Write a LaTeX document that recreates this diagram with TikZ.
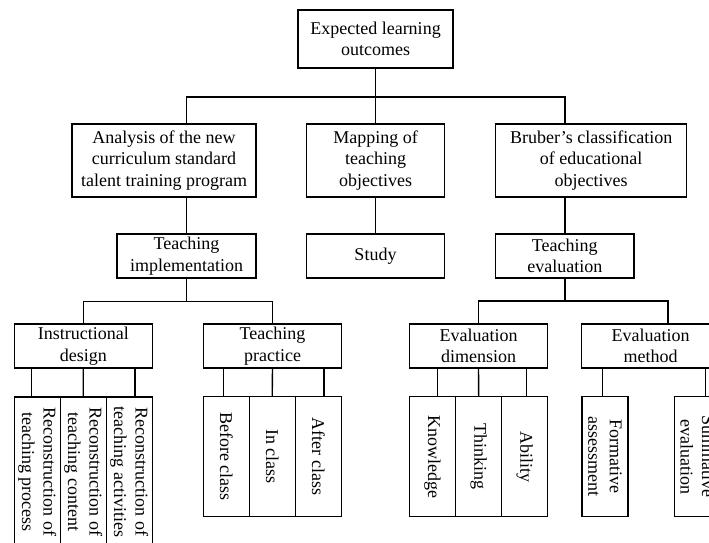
\documentclass[tikz,border=0pt]{standalone}
\usepackage{fontspec}
\setmainfont{Liberation Serif}
\begin{document}
\begin{tikzpicture}[x=1pt,y=-1pt,line width=1.4pt,
  txt/.style={font=\fontsize{18}{21.5}\selectfont},
  box/.style={draw,txt,line width=1.4pt,inner sep=0pt,align=center},
  leaf/.style={draw,line width=1.4pt,inner sep=0pt,minimum width=46pt},
  vtext/.style={txt,rotate=-90,align=center,inner sep=0pt}]
\useasboundingbox (0,0) rectangle (709,542);
\clip (0,0) rectangle (709,542);
\coordinate (busA) at (0,97);
\coordinate (busB) at (0,301.5);

% level 1
\node[box,minimum width=155pt,minimum height=58pt] (top) at (375.5,39) {Expected learning\\outcomes};
% level 2
\node[box,minimum width=184pt,minimum height=73pt] (ana) at (164,160.5) {Analysis of the new\\curriculum standard\\talent training program};
\node[box,minimum width=137.6pt,minimum height=73pt] (map) at (375.5,160.5) {Mapping of\\teaching\\objectives};
\node[box,minimum width=191pt,minimum height=73pt] (bru) at (591.2,160.5) {Bruber's classification\\of educational\\objectives};
% level 3
\node[box,minimum width=139pt,minimum height=44pt] (impl) at (186.5,256) {Teaching\\implementation};
\node[box,minimum width=137.6pt,minimum height=44pt] (study) at (375.5,256) {Study};
\node[box,minimum width=138.3pt,minimum height=44pt] (evalT) at (564.8,256) {Teaching\\evaluation};
% level 4
\node[box,minimum width=138pt,minimum height=44pt] (id) at (83.3,346) {Instructional\\design};
\node[box,minimum width=138.4pt,minimum height=44pt] (tp) at (272.5,346) {Teaching\\practice};
\node[box,minimum width=138.4pt,minimum height=44pt] (ed) at (478.5,346) {Evaluation\\dimension};
\node[box,minimum width=138pt,minimum height=44pt] (em) at (650.7,346) {Evaluation\\method};

% level 5: instructional design
\node[leaf,minimum height=150pt] (r1) at (37.2,472) {};
\node[leaf,minimum height=150pt] (r2) at (83.2,472) {};
\node[leaf,minimum height=150pt] (r3) at (129.2,472) {};
\node[vtext] (r1t) at (r1) {Reconstruction of\\teaching process};
\node[vtext] (r2t) at (r2) {Reconstruction of\\teaching content};
\node[vtext] (r3t) at (r3) {Reconstruction of\\teaching activities};
% level 5: teaching practice
\node[leaf,minimum height=120pt] (p1) at (226.3,456.7) {};
\node[leaf,minimum height=120pt] (p2) at (272.2,456.7) {};
\node[leaf,minimum height=120pt] (p3) at (318.3,456.7) {};
\node[vtext] (p1t) at (p1) {Before class};
\node[vtext] (p2t) at (p2) {In class};
\node[vtext] (p3t) at (p3) {After class};
% level 5: evaluation dimension
\node[leaf,minimum height=120pt] (d1) at (432.5,456.7) {};
\node[leaf,minimum height=120pt] (d2) at (478.7,456.7) {};
\node[leaf,minimum height=120pt] (d3) at (524.7,456.7) {};
\node[vtext] (d1t) at (d1) {Knowledge};
\node[vtext] (d2t) at (d2) {Thinking};
\node[vtext] (d3t) at (d3) {Ability};
% level 5: evaluation method
\node[leaf,minimum height=120pt] (m1) at (605,456.7) {};
\node[leaf,minimum height=120pt] (m2) at (697.2,456.7) {};
\node[vtext] (m1t) at (m1) {Formative\\assessment};
\node[vtext] (m2t) at (m2) {Summative\\evaluation};

% connectors: levels 1-3
\draw (top.south) -- (top.south |- busA);
\draw (impl.north |- ana.north) |- (evalT.north |- busA) -- (evalT.north |- bru.north);
\draw (map.north) -- (map.north |- busA);
\draw (ana.south -| impl.north) -- (impl.north);
\draw (map.south) -- (study.north);
\draw (bru.south -| evalT.north) -- (evalT.north);
% connectors: levels 3-4
\draw (impl.south) -- (impl.south |- busB);
\draw (id.north) |- (tp.north |- busB) -- (tp.north);
\draw (evalT.south) -- (evalT.south |- busB);
\draw ([xshift=17.3pt]em.north) -- ++(0,-22.5) -| (ed.north);
% connectors: levels 4-5
\draw ([xshift=-5.5pt]r1.north) -- ++(0,-28.7);
\draw (r2.north) -- (id.south);
\draw ([xshift=5.8pt]r3.north) -- ++(0,-28.7);
\draw ([xshift=-3pt]p1.north) -- ++(0,-28.7);
\draw (p2.north) -- (tp.south);
\draw ([xshift=5.7pt]p3.north) -- ++(0,-28.7);
\draw ([xshift=4.8pt]d1.north) -- ++(0,-28.7);
\draw (d2.north) -- (ed.south);
\draw ([xshift=2pt]d3.north) -- ++(0,-28.7);
\draw ([xshift=-2.7pt]m1.north) -- ++(0,-28.7);
\draw ([xshift=8.5pt]m2.north) -- ++(0,-28.7);
\end{tikzpicture}
\end{document}
